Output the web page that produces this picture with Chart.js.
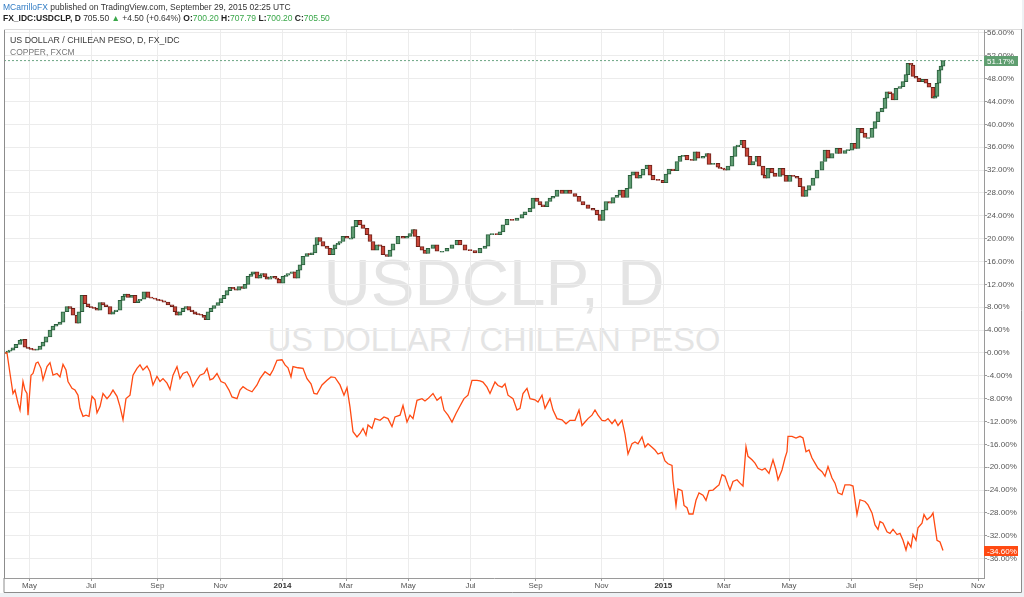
<!DOCTYPE html>
<html><head><meta charset="utf-8">
<script src="https://cdn.jsdelivr.net/npm/chart.js@4.4.0/dist/chart.umd.min.js"></script>
<style>
html,body{margin:0;padding:0;width:1024px;height:597px;overflow:hidden;background:#eef1f4;font-family:"Liberation Sans",Arial,sans-serif;}
#frame{position:absolute;left:0;top:0;width:1022px;height:593px;background:#fff;}
.wm{position:absolute;left:4px;width:980px;text-align:center;color:#e4e4e4;line-height:1;white-space:nowrap;}
#wm1{top:250px;font-size:65.5px;}
#wm2{top:324px;font-size:32.6px;}
canvas{position:absolute;left:0;top:0;}
.txt{position:absolute;white-space:nowrap;font-size:8.5px;line-height:10px;}
#h1{left:3px;top:1.5px;color:#333;}
#h1 .user{color:#2f7bc4;}
#h2{left:3px;top:12.5px;color:#333;}
#h2 b{color:#222;}
#h2 .g{color:#3aa74a;}
#l1{left:10px;top:35px;color:#3a3a3a;font-size:8.8px;}
#l2{left:10px;top:46.5px;color:#777;}
</style></head>
<body>
<div id="frame"></div>
<div class="wm" id="wm1">USDCLP, D</div>
<div class="wm" id="wm2">US DOLLAR / CHILEAN PESO</div>
<canvas id="c" width="1024" height="597"></canvas>
<div class="txt" id="h1"><span class="user">MCarrilloFX</span> published on TradingView.com, September 29, 2015 02:25 UTC</div>
<div class="txt" id="h2"><b>FX_IDC:USDCLP, D</b> 705.50 <span class="g">▲</span> +4.50 (+0.64%) <b>O:</b><span class="g">700.20</span> <b>H:</b><span class="g">707.79</span> <b>L:</b><span class="g">700.20</span> <b>C:</b><span class="g">705.50</span></div>
<div class="txt" id="l1">US DOLLAR / CHILEAN PESO, D, FX_IDC</div>
<div class="txt" id="l2">COPPER, FXCM</div>
<script>
// time positions (reference time-axis units) and % change values
const candleT = [0,3,5,8,11,15,17,20,23,26,29,32,35,38,41,45,48,51,55,58,62,65,68,72,74,77,80,83,86,89,92,95,98,101,105,108,111,115,118,120,123,127,130,133,135,139,143,146,150,153,156,159,163,167,170,172,175,178,181,184,187,190,193,196,199,201,203,206,209,213,216,219,222,225,228,231,234,238,240,243,246,248,252,255,257,260,262,265,267,270,272,274,278,281,283,287,290,293,295,298,302,305,307,310,312,315,318,322,325,328,330,333,335,338,342,346,348,351,355,358,362,365,368,372,375,378,382,385,388,393,398,402,405,408,410,413,417,420,423,428,432,437,442,447,452,455,460,465,470,475,480,483,487,492,495,498,502,507,512,517,520,525,528,532,535,538,542,545,548,552,557,561,565,570,574,578,583,588,592,595,598,601,605,608,612,615,618,622,625,628,632,635,638,642,645,648,653,658,661,664,668,672,675,678,682,687,690,693,698,702,704,708,713,715,718,720,723,727,730,733,737,739,742,745,748,752,754,758,760,763,767,770,775,778,781,785,788,792,795,798,801,804,808,812,817,820,823,827,832,835,840,843,847,850,853,857,860,863,867,870,873,877,880,882,885,888,891,895,898,901,903,906,908,911,914,918,921,924,928,930,932,934,936,938];
const candleClose = [0.0,0.3,0.5,0.9,1.5,2.2,2.4,1.0,0.8,0.6,0.5,0.6,1.2,1.9,2.8,4.0,4.7,5.0,5.4,7.2,8.1,7.8,6.6,5.2,7.2,10.1,8.6,8.1,7.9,7.8,7.5,8.8,8.4,8.1,6.8,7.2,7.5,9.2,9.9,10.3,9.7,10.1,8.8,9.1,9.4,10.7,9.7,9.6,9.4,9.2,9.1,8.9,8.4,8.1,7.2,6.6,7.2,7.8,8.1,7.5,7.2,6.8,6.7,6.6,6.2,5.8,7.2,7.8,8.3,8.8,9.5,10.1,10.9,11.5,11.2,11.0,11.6,11.3,12.0,13.4,13.8,14.2,13.1,13.6,13.9,13.3,12.9,13.2,13.4,13.1,12.9,12.2,13.4,13.6,13.9,14.2,13.1,14.5,15.4,16.9,17.4,17.2,17.5,18.9,20.2,19.5,18.7,18.3,17.2,18.2,18.9,19.2,19.5,20.4,20.1,20.1,22.1,23.2,22.4,21.8,20.7,19.5,18.0,18.9,18.7,17.2,16.9,18.0,19.1,20.4,20.1,20.4,20.9,21.6,20.4,18.6,18.0,17.4,18.3,18.9,17.8,17.8,18.3,18.9,19.7,18.9,18.0,17.9,17.5,18.3,18.7,20.7,20.9,20.7,21.2,22.4,23.4,23.2,23.6,24.2,24.7,25.3,27.1,26.5,25.9,25.6,26.5,27.1,27.4,28.5,27.9,28.5,27.9,27.4,26.5,25.9,25.3,25.0,24.2,23.2,25.0,26.5,26.2,27.2,27.6,28.5,27.2,28.8,31.1,31.7,30.6,31.1,32.2,32.9,31.1,30.3,30.2,29.8,31.3,32.2,31.9,33.5,34.4,34.6,33.8,33.7,35.2,34.1,34.4,34.9,33.0,33.2,32.5,32.3,32.2,32.0,32.7,34.4,36.1,36.4,37.2,35.9,34.4,32.9,33.5,34.4,32.7,31.1,30.6,32.3,31.5,30.9,32.3,31.1,30.0,31.1,30.9,30.6,29.1,27.4,28.5,29.3,30.6,32.0,33.5,35.5,34.1,34.9,35.8,34.9,35.4,35.5,36.7,35.8,39.3,38.5,37.7,37.7,39.3,40.5,42.2,42.8,44.6,45.7,45.4,44.3,46.3,46.6,47.5,48.7,50.7,50.4,48.4,48.1,47.5,47.9,47.2,46.5,44.6,44.9,47.2,49.5,50.2,51.17];

const copperT = [0,2,5,8,10,13,15,18,20,22,23,26,28,31,33,36,38,42,45,48,52,55,58,61,63,67,70,73,75,78,81,84,87,90,92,95,98,102,105,108,112,115,118,121,125,128,132,135,138,142,145,148,152,155,158,162,165,168,172,175,178,182,185,188,192,195,199,202,205,208,212,216,220,224,227,232,235,238,242,247,252,255,260,265,268,272,277,280,283,286,288,293,298,302,306,309,312,317,322,326,330,335,339,342,345,348,352,355,358,361,363,367,370,375,379,383,387,390,395,398,402,405,408,412,417,420,423,428,432,436,439,443,447,451,455,459,463,467,472,475,478,482,485,490,493,497,500,503,508,512,515,518,522,525,530,533,537,540,545,548,552,557,561,565,570,574,577,580,583,587,590,593,597,600,603,607,610,613,617,620,623,627,630,633,637,640,643,647,650,653,657,660,663,667,668,671,673,677,679,682,684,688,691,694,698,701,704,708,712,714,717,720,723,725,728,732,735,738,741,743,747,750,753,757,760,764,768,771,773,777,780,782,783,787,791,795,798,801,804,807,810,813,817,820,823,827,830,833,837,840,845,848,852,855,860,863,867,870,873,875,878,882,885,888,892,895,898,901,903,906,908,911,913,917,919,922,926,928,930,932,935,938];
const copperPct = [0.0,0.0,-3.6,-7.1,-6.5,-8.8,-10.0,-5.0,-6.5,-7.1,-10.9,-3.9,-3.6,-1.8,-1.6,-2.7,-4.7,-2.4,-1.7,-3.9,-3.6,-4.2,-2.0,-3.0,-5.0,-6.2,-6.5,-7.4,-9.7,-11.1,-10.9,-11.1,-7.6,-8.2,-10.5,-9.4,-7.1,-8.0,-7.4,-6.5,-7.6,-9.4,-11.7,-8.0,-7.4,-3.9,-2.7,-2.1,-3.0,-2.3,-3.3,-5.6,-4.1,-5.0,-4.5,-5.3,-6.4,-3.9,-2.4,-4.5,-3.6,-3.3,-4.2,-5.9,-4.7,-3.9,-3.6,-2.7,-4.7,-4.5,-3.6,-5.0,-5.3,-6.5,-7.7,-8.0,-6.5,-5.9,-6.4,-6.8,-5.6,-4.5,-3.3,-3.9,-3.0,-1.3,-1.2,-2.1,-2.6,-4.2,-2.4,-2.6,-2.7,-4.5,-5.4,-7.1,-7.2,-5.6,-4.8,-4.2,-4.3,-5.6,-7.4,-6.1,-9.5,-13.8,-14.7,-14.1,-13.2,-14.4,-12.6,-13.2,-11.5,-11.8,-11.2,-11.5,-12.9,-11.2,-10.9,-9.2,-12.1,-10.9,-11.5,-8.3,-8.0,-8.4,-8.0,-7.1,-8.3,-7.7,-10.0,-10.9,-12.1,-10.6,-9.3,-8.0,-7.4,-4.8,-4.8,-4.9,-5.1,-6.0,-7.1,-5.1,-5.7,-6.0,-5.4,-7.4,-8.0,-10.0,-9.7,-7.1,-6.2,-8.0,-8.2,-8.6,-7.4,-9.7,-8.0,-10.0,-11.5,-11.7,-12.4,-11.8,-11.8,-10.0,-12.7,-12.1,-11.5,-10.9,-10.0,-10.9,-11.8,-11.9,-11.5,-12.4,-11.7,-12.7,-11.8,-14.2,-17.7,-15.9,-15.6,-15.9,-14.7,-16.5,-15.9,-16.5,-17.0,-17.7,-17.4,-18.9,-19.4,-19.7,-22.3,-26.7,-23.8,-24.1,-26.7,-27.1,-28.2,-28.2,-25.8,-24.5,-24.9,-25.8,-24.1,-24.0,-23.4,-23.1,-21.3,-21.6,-23.1,-24.0,-22.5,-22.2,-22.8,-23.3,-16.4,-18.1,-18.7,-19.3,-20.2,-20.5,-20.2,-21.1,-18.7,-20.5,-22.2,-20.5,-18.4,-17.3,-14.6,-14.6,-14.9,-14.6,-14.9,-17.3,-17.0,-18.4,-19.3,-20.2,-20.8,-21.6,-19.9,-21.9,-22.8,-24.5,-24.8,-23.1,-23.1,-23.3,-28.3,-25.7,-26.0,-26.6,-28.0,-30.1,-30.9,-29.5,-29.8,-31.3,-31.6,-30.9,-31.8,-31.6,-32.8,-34.5,-33.1,-34.0,-31.8,-32.8,-30.6,-29.8,-28.3,-29.2,-28.6,-28.0,-30.4,-32.8,-33.1,-34.6];

const tickT = [24.5,86,152.3,215.5,277.5,341,403.3,465.5,530.5,596.5,658.3,719,784,846,911,973];
const tickLabels = ['May','Jul','Sep','Nov','2014','Mar','May','Jul','Sep','Nov','2015','Mar','May','Jul','Sep','Nov'];
const yMin = -39.4, yMax = 56.7, yStep = 4;
const tMin = -1, tMax = 979;

const candleOpen = candleClose.map((v, i) => i === 0 ? v : candleClose[i - 1]);
const isUp = candleClose.map((v, i) => v >= candleOpen[i]);
const lastClose = candleClose[candleClose.length - 1];
const lastCopper = copperPct[copperPct.length - 1];

const FONT = '"Liberation Sans", Arial, sans-serif';
const UP_FILL = '#5f9c72', UP_LINE = '#2a5e3c', DN_FILL = '#c9473a', DN_LINE = '#6b2018';
const COPPER = '#ff4a12';

const framePlugin = {
  id: 'frame',
  afterDraw(chart) {
    const { ctx, chartArea: a } = chart;
    ctx.save();
    ctx.strokeStyle = '#8c8c8c';
    ctx.lineWidth = 1;
    ctx.beginPath();
    ctx.moveTo(a.left + 0.5, a.top);
    ctx.lineTo(a.left + 0.5, a.bottom);
    ctx.stroke();
    ctx.strokeStyle = '#dcdcdc';
    ctx.beginPath();
    ctx.moveTo(a.left, a.top + 0.5);
    ctx.lineTo(1021, a.top + 0.5);
    ctx.stroke();
    ctx.strokeStyle = '#8c8c8c';
    ctx.beginPath();
    ctx.moveTo(1021.5, a.top);
    ctx.lineTo(1021.5, 592.5);
    ctx.lineTo(a.left, 592.5);
    ctx.lineTo(a.left, a.bottom);
    ctx.stroke();
    // last value labels
    const ys = chart.scales.y;
    const drawTag = (val, bg) => {
      const y = Math.round(ys.getPixelForValue(val));
      ctx.fillStyle = bg;
      ctx.fillRect(a.right, y - 5, 34, 10);
      ctx.fillStyle = '#fff';
      ctx.font = '8px ' + FONT;
      ctx.textBaseline = 'middle';
      ctx.textAlign = 'left';
      ctx.fillText(val.toFixed(2) + '%', a.right + 3, y + 0.5);
    };
    drawTag(lastClose, '#5f9e70');
    drawTag(lastCopper, '#ff4a12');
    ctx.restore();
  }
};

new Chart(document.getElementById('c'), {
  type: 'bar',
  data: {
    datasets: [
      {
        type: 'line',
        data: [{ x: tMin, y: lastClose }, { x: tMax, y: lastClose }],
        borderColor: '#6ba583',
        borderWidth: 1,
        borderDash: [2, 2],
        pointRadius: 0,
        order: 3
      },
      {
        type: 'bar',
        data: candleT.map((t, i) => ({ x: t, y: [candleOpen[i], candleClose[i]] })),
        backgroundColor: isUp.map(u => u ? UP_FILL : DN_FILL),
        borderColor: isUp.map(u => u ? UP_LINE : DN_LINE),
        borderWidth: 1,
        borderSkipped: false,
        barThickness: 4,
        minBarLength: 1,
        grouped: false,
        order: 2
      },
      {
        type: 'line',
        data: copperT.map((t, i) => ({ x: t, y: copperPct[i] })),
        borderColor: COPPER,
        borderWidth: 1.3,
        pointRadius: 0,
        tension: 0,
        order: 1
      }
    ]
  },
  options: {
    responsive: false,
    animation: false,
    events: [],
    layout: { padding: { left: 4, top: 29, right: 4, bottom: 5 } },
    plugins: { legend: { display: false }, tooltip: { enabled: false } },
    scales: {
      x: {
        type: 'linear',
        position: 'bottom',
        min: tMin,
        max: tMax,
        offset: false,
        afterBuildTicks(scale) { scale.ticks = tickT.map(v => ({ value: v })); },
        afterFit(scale) { scale.height = 14; },
        grid: { color: '#ececec', offset: false, tickLength: 3, tickColor: '#9a9a9a', drawTicks: true },
        border: { display: true, color: '#9a9a9a' },
        ticks: {
          autoSkip: false,
          maxRotation: 0,
          padding: 0,
          callback: (v, i) => tickLabels[i],
          font: (c) => ({ family: FONT, size: 8, weight: /^\d{4}$/.test(tickLabels[c.index]) ? 'bold' : 'normal' }),
          color: (c) => /^\d{4}$/.test(tickLabels[c.index]) ? '#333' : '#555'
        }
      },
      y: {
        type: 'linear',
        position: 'right',
        min: yMin,
        max: yMax,
        afterFit(scale) { scale.width = 36; },
        grid: { color: '#ececec', tickLength: 3, tickColor: '#9a9a9a', drawTicks: true },
        border: { display: true, color: '#9a9a9a' },
        ticks: {
          stepSize: yStep,
          includeBounds: false,
          padding: 0,
          font: { family: FONT, size: 8 },
          color: '#555',
          callback: (v) => v.toFixed(2) + '%'
        }
      }
    }
  },
  plugins: [framePlugin]
});
</script>
</body></html>
